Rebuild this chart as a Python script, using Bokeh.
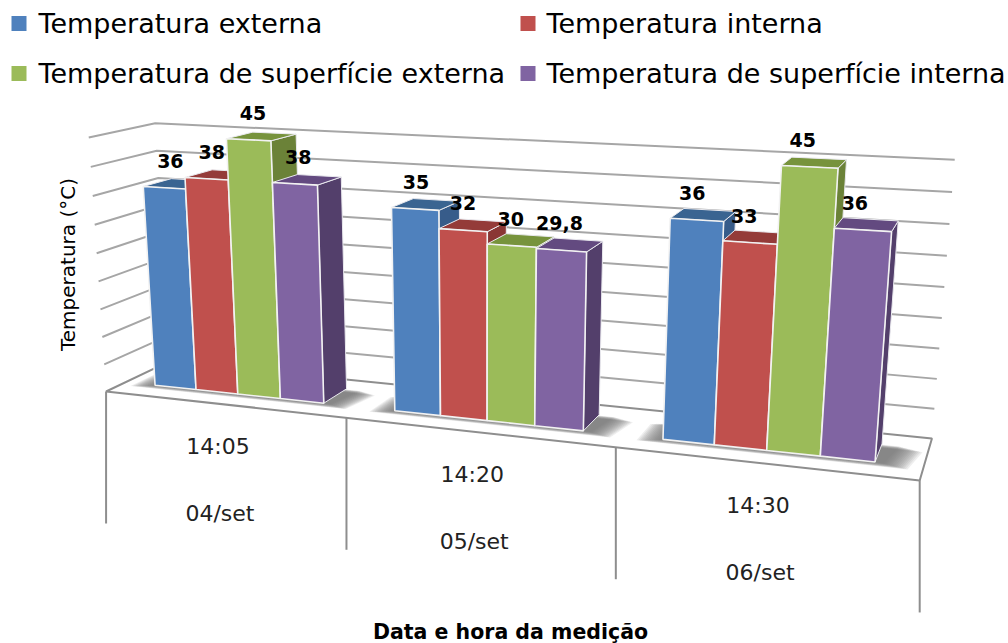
import numpy as np
from bokeh.plotting import figure
from bokeh.models import Range1d
from bokeh.core.properties import value
from bokeh.embed import file_html
from bokeh.resources import INLINE

# ---- data ----
horas = ["14:05", "14:20", "14:30"]
datas = ["04/set", "05/set", "06/set"]
series = ["Temperatura externa", "Temperatura interna",
          "Temperatura de superfície externa", "Temperatura de superfície interna"]
t_externa = [36, 35, 36]
t_interna = [38, 32, 33]
t_sup_externa = [45, 30, 45]
t_sup_interna = [38, 29.8, 36]
rotulos = [["36", "35", "36"], ["38", "32", "33"], ["45", "30", "45"], ["38", "29,8", "36"]]
y_ticks = [5, 10, 15, 20, 25, 30, 35, 40, 45]
y_max = 45

face = ["#4F81BD", "#C0504D", "#9BBB59", "#8064A2"]
top = ["#3A6491", "#943B39", "#77933C", "#634A80"]
side = ["#375C8A", "#8A3634", "#6B8238", "#533F6B"]
FONT = value("DejaVu Sans")

# ---- perspective camera: calibrated on the chart box ----
box = [((0, 0, 0), (107.7, 391)), ((1, 0, 0), (346, 417)), ((2, 0, 0), (615.5, 447)),
       ((3, 0, 0), (919, 480)), ((0, 0, 1), (166, 361)), ((3, 0, 1), (931.7, 438)),
       ((0, 1, 1), (157, 123)), ((3, 1, 1), (954, 159)), ((0, 1, 0), (86, 137))]
A, b = [], []
for (X, Y, Z), (u, v) in box:
    A.append([X, Y, Z, 1, 0, 0, 0, 0, -u * X, -u * Y, -u * Z]); b.append(u)
    A.append([0, 0, 0, 0, X, Y, Z, 1, -v * X, -v * Y, -v * Z]); b.append(v)
m = np.linalg.lstsq(np.array(A, float), np.array(b, float), rcond=None)[0]
M = np.append(m, 1.0).reshape(3, 4)


def proj(X, val, Z):
    q = M @ np.array([X, val / y_max, Z, 1.0])
    return q[0] / q[2], q[1] / q[2]


def poly(pts):
    s = [proj(*t) for t in pts]
    return [a for a, _ in s], [c for _, c in s]


p = figure(width=1008, height=643, x_range=Range1d(0, 1008), y_range=Range1d(643, 0),
           x_axis_type=None, y_axis_type=None, toolbar_location=None,
           output_backend="svg", min_border=0, outline_line_color=None)
p.grid.visible = False
p.background_fill_color = "white"

# floor
fx, fy = poly([(0, 0, 0), (3, 0, 0), (3, 0, 1), (0, 0, 1)])
p.patch(fx, fy, fill_color="white", line_color="#8E8E8E", line_width=2)

# wall gridlines
for t in y_ticks:
    gx, gy = poly([(0, t, 0), (0, t, 1), (3, t, 1)])
    p.line(gx, gy, line_color="#A6A6A6", line_width=2)

# category separators
TICK = 132
for X in range(4):
    a, c = proj(X, 0, 0)
    p.line([a, a], [c, c + TICK], line_color="#8E8E8E", line_width=2)

BAR_LO, BAR_HI = 0.13, 0.845
Z0, Z1 = 0.30, 0.74
bw = (BAR_HI - BAR_LO) / 4
vals = [t_externa, t_interna, t_sup_externa, t_sup_interna]

# soft shadows
for g in range(3):
    for k in range(14):
        e = 0.006 * k
        sx, sy = poly([(g + BAR_LO - 0.005 - e, 0, Z0 - 0.012 - e * 1.0), (g + BAR_HI + 0.03 + e, 0, Z0 - 0.012 - e * 1.0),
                       (g + BAR_HI + 0.06 + e, 0, Z1 - 0.02 - e), (g + BAR_LO - 0.005 - e, 0, Z1 - 0.02 - e)])
        p.patch(sx, sy, fill_color="#707070", fill_alpha=0.12, line_color=None)

# bars
for g in range(3):
    for i in range(4):
        h = vals[i][g]
        x0, x1 = g + BAR_LO + i * bw, g + BAR_LO + (i + 1) * bw
        sx, sy = poly([(x1, 0, Z0), (x1, 0, Z1), (x1, h, Z1), (x1, h, Z0)])
        p.patch(sx, sy, fill_color=side[i], line_color="#E9E9EE", line_width=1)
        tx, ty = poly([(x0, h, Z0), (x1, h, Z0), (x1, h, Z1), (x0, h, Z1)])
        p.patch(tx, ty, fill_color=top[i], line_color="#E9E9EE", line_width=1)
        ax, ay = poly([(x0, 0, Z0), (x1, 0, Z0), (x1, h, Z0), (x0, h, Z0)])
        p.patch(ax, ay, fill_color=face[i], line_color="#F2F2F2", line_width=1.6)

# data labels
lx, ly, lt = [], [], []
for g in range(3):
    for i in range(4):
        a, c = proj(g + BAR_LO + (i + 0.5) * bw, vals[i][g], Z0)
        lx.append(a + 9.3 - 0.02 * a); ly.append(c - 27); lt.append(rotulos[i][g])
p.text(lx, ly, text=lt, text_font=FONT, text_font_style="bold", text_font_size="19px",
       text_align="center", text_baseline="middle", text_color="black")

# category labels
for g in range(3):
    a, c = proj(g + 0.5, 0, 0)
    p.text([a - 5], [c + 42], text=[horas[g]], text_font=FONT, text_font_size="22px",
           text_align="center", text_baseline="middle", text_color="#222222")
    p.text([a - 3], [c + 109], text=[datas[g]], text_font=FONT, text_font_size="22px",
           text_align="center", text_baseline="middle", text_color="#222222")

# axis titles
p.text([67], [264], text=["Temperatura (°C)"], angle=np.pi / 2, text_font=FONT, text_font_size="20px",
       text_align="center", text_baseline="middle", text_color="black")
p.text([510], [631], text=["Data e hora da medição"], text_font=FONT, text_font_style="bold",
       text_font_size="20.5px", text_align="center", text_baseline="middle", text_color="black")

# legend
leg_x = [11, 520, 11, 520]
leg_y = [23, 23, 73, 73]
text_x = [38, 546, 38, 546]
p.quad(left=leg_x, right=[a + 15 for a in leg_x],
       top=[c - 7.5 for c in leg_y], bottom=[c + 7.5 for c in leg_y],
       fill_color=face, line_color=None)
p.text(text_x, leg_y, text=series, text_font=FONT, text_font_size="27px",
       text_align="left", text_baseline="middle", text_color="black")

open("out.html", "w").write(file_html(p, INLINE))
